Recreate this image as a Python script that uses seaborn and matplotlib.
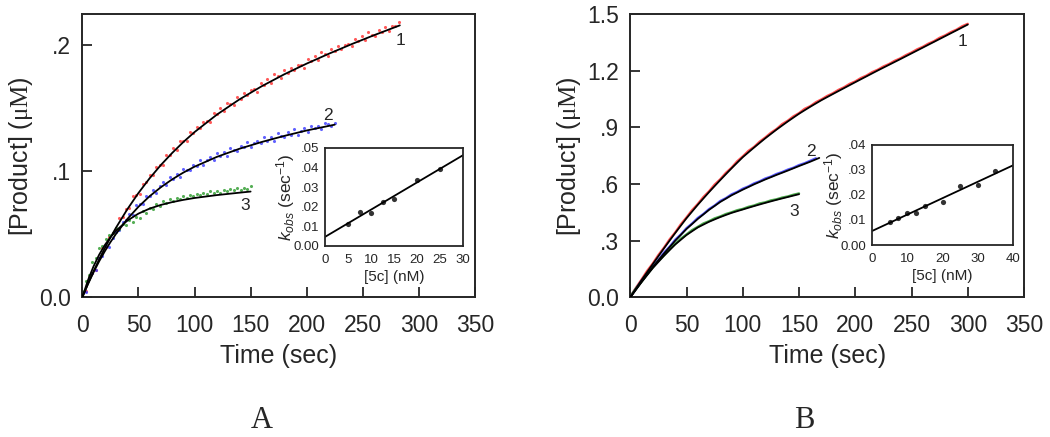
import numpy as np
import pandas as pd
import matplotlib
matplotlib.use("Agg")
import matplotlib.pyplot as plt
import seaborn as sns

sns.set_style("ticks")
plt.rcParams["font.family"] = ["Liberation Sans", "DejaVu Sans"]
plt.rcParams["mathtext.fontset"] = "custom"
plt.rcParams["mathtext.rm"] = "Liberation Serif"
plt.rcParams["mathtext.it"] = "Liberation Sans:italic"
plt.rcParams["mathtext.sf"] = "Liberation Sans"

# ---------------- Panel A data ----------------
a1_fit_t = [0, 5, 10, 15, 20, 25, 30, 40, 50, 60, 70, 80, 90, 100, 120, 140, 160, 180, 200, 220, 240, 260, 283]
a1_fit_y = [0, 0.0106, 0.0206, 0.0300, 0.0389, 0.0472, 0.0551, 0.0696, 0.0826, 0.0943, 0.1048, 0.1143,
            0.1230, 0.1309, 0.1448, 0.1568, 0.1673, 0.1767, 0.1852, 0.1931, 0.2006, 0.2077, 0.2155]
a2_fit_t = [0, 5, 10, 15, 20, 25, 30, 40, 50, 60, 70, 80, 90, 100, 120, 140, 160, 180, 200, 225]
a2_fit_y = [0, 0.0104, 0.0198, 0.0285, 0.0364, 0.0436, 0.0502, 0.0619, 0.0717, 0.0801, 0.0872, 0.0934,
            0.0988, 0.1035, 0.1113, 0.1177, 0.1231, 0.1279, 0.1322, 0.1368]
a3_fit_t = [0, 5, 10, 15, 20, 25, 30, 40, 50, 60, 70, 80, 90, 100, 120, 140, 150]
a3_fit_y = [0, 0.0134, 0.0245, 0.0337, 0.0413, 0.0475, 0.0527, 0.0607, 0.0663, 0.0703, 0.0732, 0.0754,
            0.0772, 0.0787, 0.0810, 0.0829, 0.0838]

a1_dot_t = np.arange(0, 283, 3)
a1_dot_y = [0.002, 0.005, 0.016, 0.019, 0.022, 0.031, 0.039, 0.040, 0.048, 0.051,
            0.053, 0.063, 0.064, 0.070, 0.071, 0.080, 0.081, 0.082, 0.090, 0.091,
            0.097, 0.097, 0.103, 0.105, 0.105, 0.113, 0.113, 0.118, 0.117, 0.124,
            0.124, 0.124, 0.131, 0.130, 0.135, 0.134, 0.139, 0.140, 0.139, 0.146,
            0.145, 0.150, 0.148, 0.154, 0.153, 0.152, 0.159, 0.157, 0.162, 0.160,
            0.164, 0.165, 0.163, 0.170, 0.168, 0.173, 0.170, 0.177, 0.175, 0.174,
            0.180, 0.178, 0.182, 0.180, 0.184, 0.184, 0.182, 0.189, 0.187, 0.191,
            0.188, 0.194, 0.193, 0.191, 0.197, 0.195, 0.199, 0.197, 0.200, 0.201,
            0.199, 0.205, 0.203, 0.207, 0.204, 0.210, 0.208, 0.207, 0.212, 0.210,
            0.214, 0.211, 0.215, 0.215, 0.218]
a2_dot_t = np.arange(0, 226, 3)
a2_dot_y = [0.001, 0.004, 0.015, 0.019, 0.022, 0.031, 0.033, 0.041, 0.040, 0.047,
            0.052, 0.053, 0.060, 0.061, 0.066, 0.065, 0.073, 0.074, 0.074, 0.080,
            0.080, 0.085, 0.083, 0.088, 0.091, 0.089, 0.095, 0.094, 0.098, 0.095,
            0.102, 0.101, 0.101, 0.105, 0.104, 0.109, 0.105, 0.109, 0.111, 0.109,
            0.114, 0.112, 0.115, 0.112, 0.118, 0.117, 0.116, 0.120, 0.119, 0.123,
            0.119, 0.122, 0.124, 0.122, 0.127, 0.124, 0.127, 0.124, 0.130, 0.128,
            0.127, 0.131, 0.129, 0.133, 0.129, 0.132, 0.134, 0.131, 0.136, 0.134,
            0.136, 0.133, 0.138, 0.137, 0.136, 0.138]
a3_dot_t = np.arange(0, 151, 3)
a3_dot_y = [0.005, 0.013, 0.018, 0.028, 0.031, 0.039, 0.041, 0.046, 0.049, 0.051,
            0.055, 0.054, 0.058, 0.057, 0.061, 0.060, 0.064, 0.063, 0.068, 0.067,
            0.071, 0.070, 0.074, 0.072, 0.076, 0.075, 0.078, 0.076, 0.079, 0.078,
            0.080, 0.079, 0.081, 0.080, 0.082, 0.081, 0.083, 0.082, 0.084, 0.083,
            0.084, 0.083, 0.085, 0.084, 0.086, 0.085, 0.087, 0.085, 0.087, 0.086,
            0.088]

# inset A
insA_conc = [5, 7.5, 10, 12.5, 15, 20, 25]
insA_kobs = [0.0111, 0.0173, 0.0168, 0.0224, 0.0241, 0.0336, 0.0392]

# ---------------- Panel B data ----------------
b1_fit_t = [0, 10, 20, 30, 40, 50, 60, 70, 80, 90, 100, 110, 120, 130, 140, 150, 160, 170, 180, 200, 220, 240, 260, 280, 300]
b1_fit_y = [0, 0.091, 0.176, 0.260, 0.341, 0.419, 0.490, 0.557, 0.621, 0.683, 0.742, 0.793, 0.842,
            0.888, 0.931, 0.972, 1.009, 1.044, 1.076, 1.139, 1.201, 1.261, 1.322, 1.383, 1.444]
b2_fit_t = [0, 10, 20, 30, 40, 50, 60, 70, 80, 90, 100, 110, 120, 130, 140, 150, 160, 168]
b2_fit_y = [0, 0.083, 0.160, 0.232, 0.300, 0.362, 0.415, 0.463, 0.505, 0.540, 0.570, 0.598, 0.624,
            0.648, 0.671, 0.695, 0.718, 0.738]
b3_fit_t = [0, 10, 20, 30, 40, 50, 60, 70, 80, 90, 100, 110, 120, 130, 140, 150]
b3_fit_y = [0, 0.080, 0.155, 0.220, 0.280, 0.330, 0.370, 0.400, 0.425, 0.447, 0.465, 0.483, 0.500,
            0.516, 0.531, 0.546]

b1_dot_t = np.arange(0, 301, 5)
b1_dot_y = [0.004, 0.050, 0.094, 0.140, 0.179, 0.224, 0.263, 0.307, 0.344, 0.387,
            0.423, 0.462, 0.494, 0.531, 0.561, 0.597, 0.625, 0.659, 0.686, 0.720,
            0.746, 0.775, 0.796, 0.824, 0.846, 0.871, 0.891, 0.917, 0.935, 0.958,
            0.975, 0.998, 1.012, 1.033, 1.048, 1.066, 1.080, 1.098, 1.112, 1.130,
            1.143, 1.161, 1.174, 1.192, 1.205, 1.222, 1.235, 1.252, 1.265, 1.282,
            1.296, 1.313, 1.326, 1.343, 1.356, 1.374, 1.387, 1.404, 1.417, 1.435,
            1.448]
b2_dot_t = np.arange(0, 166, 5)
b2_dot_y = [0.003, 0.046, 0.087, 0.124, 0.165, 0.198, 0.237, 0.268, 0.305, 0.333,
            0.366, 0.391, 0.420, 0.441, 0.467, 0.486, 0.510, 0.525, 0.545, 0.558,
            0.575, 0.587, 0.603, 0.614, 0.629, 0.639, 0.653, 0.663, 0.676, 0.686,
            0.700, 0.710, 0.723, 0.736]
b3_dot_t = np.arange(0, 151, 5)
b3_dot_y = [0.004, 0.046, 0.083, 0.123, 0.158, 0.193, 0.223, 0.256, 0.283, 0.311,
            0.333, 0.356, 0.373, 0.391, 0.403, 0.418, 0.428, 0.441, 0.450, 0.461,
            0.468, 0.479, 0.486, 0.497, 0.503, 0.513, 0.519, 0.528, 0.534, 0.543,
            0.550]

insB_conc = [5, 7.5, 10, 12.5, 15, 20, 25, 30, 35]
insB_kobs = [0.0091, 0.0108, 0.0129, 0.0129, 0.0156, 0.0171, 0.0235, 0.0240, 0.0295]

# ticks / labels
time_ticks = [0, 50, 100, 150, 200, 250, 300, 350]
a_yticks = [0, 0.1, 0.2]
a_ylabels = ["0.0", ".1", ".2"]
b_yticks = [0, 0.3, 0.6, 0.9, 1.2, 1.5]
b_ylabels = ["0.0", ".3", ".6", ".9", "1.2", "1.5"]
insA_xticks = [0, 5, 10, 15, 20, 25, 30]
insA_yticks = [0, 0.01, 0.02, 0.03, 0.04, 0.05]
insA_ylabels = ["0.00", ".01", ".02", ".03", ".04", ".05"]
insB_xticks = [0, 10, 20, 30, 40]
insB_yticks = [0, 0.01, 0.02, 0.03, 0.04]
insB_ylabels = ["0.00", ".01", ".02", ".03", ".04"]

RED, BLUE, GREEN = "#ff3030", "#3a3aff", "#2a9a2a"

W, H = 1050, 437
fig = plt.figure(figsize=(W / 100, H / 100), dpi=100)


def box(l, t, r, b):
    return [l / W, 1 - b / H, (r - l) / W, (b - t) / H]


axA = fig.add_axes(box(82.3, 14, 475, 297.3))
axB = fig.add_axes(box(630.3, 14, 1024, 297.3))
insA = fig.add_axes(box(325, 148, 463, 246))
insB = fig.add_axes(box(872, 145, 1013, 245))


def main_panel(ax, dots, fits, yticks, ylabels, ymax, labels, dense):
    for (t, y, c) in dots:
        if dense:
            sns.lineplot(x=t, y=y, color=c, lw=1.7, alpha=0.85, estimator=None, sort=False, ax=ax, zorder=2)
        else:
            sns.scatterplot(x=t, y=y, color=c, s=5, linewidth=0, alpha=0.8, ax=ax, zorder=2)
    for (t, y) in fits:
        sns.lineplot(x=t, y=y, color="black", lw=1.3, estimator=None, sort=False, ax=ax, zorder=3)
    ax.set_xlim(0, 350)
    ax.set_ylim(0, ymax)
    ax.set_xticks(time_ticks)
    ax.set_xticklabels([str(v) for v in time_ticks])
    ax.set_yticks(yticks)
    ax.set_yticklabels(ylabels)
    ax.tick_params(direction="in", length=7, width=1.3, labelsize=16.5)
    ax.tick_params(axis="y", pad=8)
    ax.tick_params(axis="x", pad=12)
    for s in ax.spines.values():
        s.set_linewidth(1.4)
    ax.set_xlabel("Time (sec)", fontsize=18)
    ax.set_ylabel(r"[Product] ($\mathrm{\mu M}$)", fontsize=18)
    ax.xaxis.set_label_coords(0.5, -0.165)
    ax.yaxis.set_label_coords(-0.12, 0.5)
    for (tx, ty, s) in labels:
        ax.text(tx, ty, s, fontsize=12.5, ha="center", va="center")


def inset(ax, conc, kobs, xmax, xticks, ymax, yticks, ylabels, ylab_x):
    ax.set_xlim(0, xmax)
    sns.regplot(x=conc, y=kobs, ax=ax, ci=None, truncate=False, color="black",
                scatter_kws={"s": 14, "linewidths": 0}, line_kws={"lw": 1.3})
    ax.set_xlim(0, xmax)
    ax.set_ylim(0, ymax)
    ax.set_xticks(xticks)
    ax.set_xticklabels([str(v) for v in xticks])
    ax.set_yticks(yticks)
    ax.set_yticklabels(ylabels)
    ax.tick_params(direction="in", length=0, labelsize=9.5)
    ax.tick_params(axis="y", pad=4)
    ax.tick_params(axis="x", pad=6)
    for s in ax.spines.values():
        s.set_linewidth(1.3)
    ax.set_xlabel("[5c] (nM)", fontsize=11)
    ax.set_ylabel(r"$k_{obs}$ (sec$^{\mathsf{-1}}$)", fontsize=12.5)
    ax.xaxis.set_label_coords(0.5, -0.24)
    ax.yaxis.set_label_coords(ylab_x, 0.5)


main_panel(axA,
           [(a1_dot_t, a1_dot_y, RED), (a2_dot_t, a2_dot_y, BLUE), (a3_dot_t, a3_dot_y, GREEN)],
           [(a1_fit_t, a1_fit_y), (a2_fit_t, a2_fit_y), (a3_fit_t, a3_fit_y)],
           a_yticks, a_ylabels, 0.2245,
           [(284, 0.2033, "1"), (218.6, 0.1443, "2"), (145.3, 0.0731, "3")], False)
main_panel(axB,
           [(b1_dot_t, b1_dot_y, RED), (b2_dot_t, b2_dot_y, BLUE), (b3_dot_t, b3_dot_y, GREEN)],
           [(b1_fit_t, b1_fit_y), (b2_fit_t, b2_fit_y), (b3_fit_t, b3_fit_y)],
           b_yticks, b_ylabels, 1.5,
           [(295.5, 1.355, "1"), (160.5, 0.774, "2"), (145.4, 0.456, "3")], True)

inset(insA, insA_conc, insA_kobs, 30, insA_xticks, 0.05, insA_yticks, insA_ylabels, -0.2)
inset(insB, insB_conc, insB_kobs, 40, insB_xticks, 0.04, insB_yticks, insB_ylabels, -0.19)

fig.text(262 / W, 1 - 421 / H, "A", family="Liberation Serif", fontsize=22, ha="center", va="center")
fig.text(804 / W, 1 - 421 / H, "B", family="Liberation Serif", fontsize=22, ha="center", va="center")

fig.savefig("out.png", dpi=100)
